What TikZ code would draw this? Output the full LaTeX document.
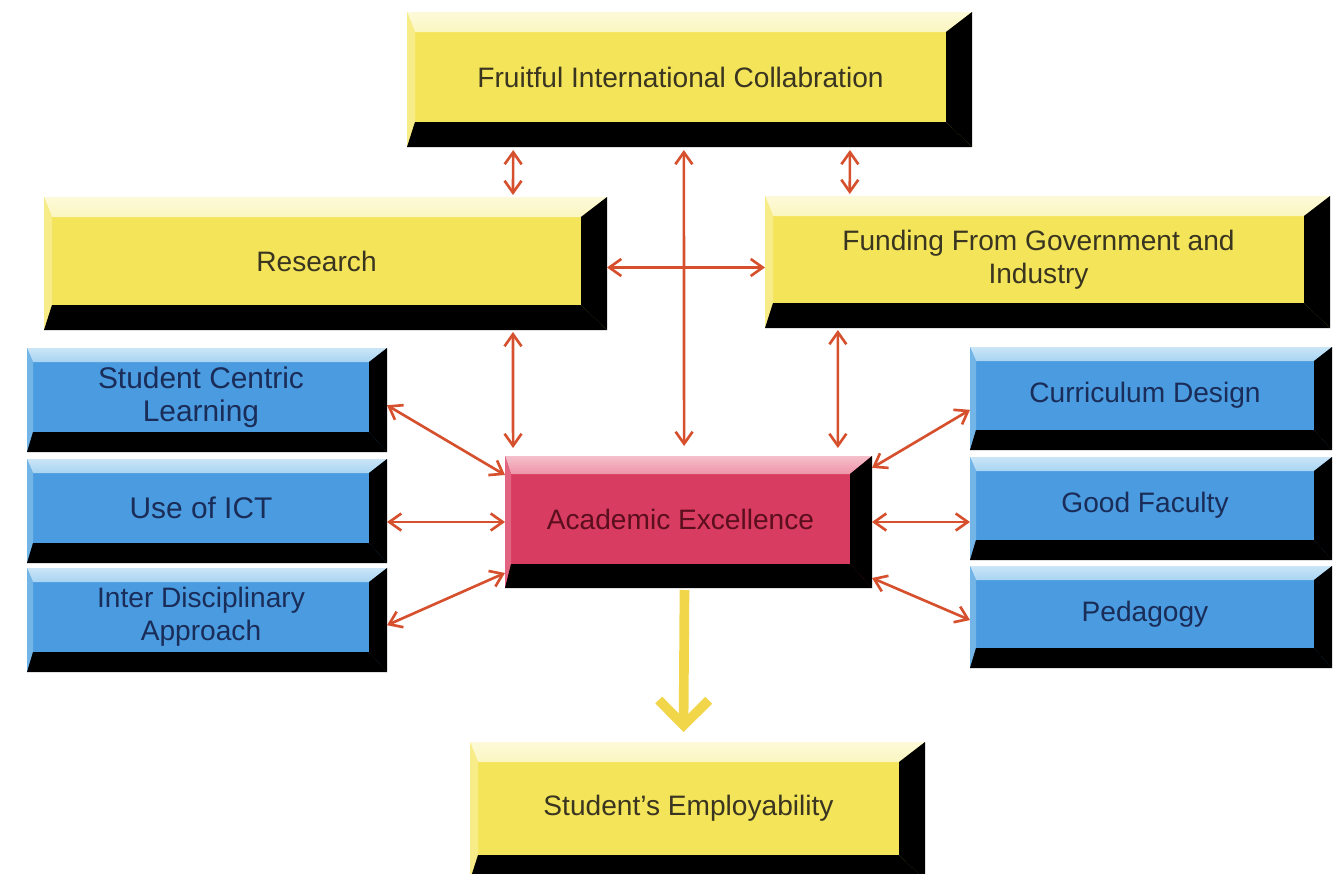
\documentclass[tikz,border=0pt]{standalone}
\usepackage{fontspec}
\setmainfont{Liberation Sans}
\usetikzlibrary{arrows.meta,calc,fit}
\definecolor{yface}{HTML}{F3E45A}
\definecolor{ylight}{HTML}{FBF6C0}
\definecolor{bface}{HTML}{4A9BDF}
\definecolor{blight}{HTML}{A8D4F2}
\definecolor{pface}{HTML}{D83C60}
\definecolor{plight}{HTML}{EE94A8}
\definecolor{linkred}{HTML}{D6502E}
\definecolor{flowyel}{HTML}{F1D64A}
\definecolor{ytext}{HTML}{3A3520}
\definecolor{btext}{HTML}{1A2C58}
\definecolor{ptext}{HTML}{5A0E1E}
\tikzset{
  boxtext/.style={align=center, font=\fontsize{16}{19}\selectfont, inner sep=0pt},
  link/.style={draw=linkred, line width=1.5pt, >={Straight Barb[length=2.4mm,width=3.4mm]}, <->},
  flow/.style={draw=flowyel, line width=5.5pt, -{Straight Barb[length=5mm,width=10mm]}}
}
% #1 name, #2 x0, #3 y0, #4 x1, #5 y1, #6 face, #7 light, #8 text
\newcommand{\bevbox}[8]{%
  \node[inner sep=0pt, outer sep=0pt, fit={(#2,#3) (#4,#5)}] (#1) {};
  \fill[#6] (#1.north west) rectangle (#1.south east);
  \shade[top color=#7!60!white, bottom color=#7]
    (#1.north west) -- (#1.north east) -- ($(#1.north east)+(-\bvr,\bvt)$)
    -- ($(#1.north west)+(\bvl,\bvt)$) -- cycle;
  \fill[#7!45!#6] (#1.north west) -- ($(#1.north west)+(\bvl,\bvt)$)
    -- ($(#1.south west)+(\bvl,-\bvb)$) -- (#1.south west) -- cycle;
  \fill[black] (#1.south west) -- ($(#1.south west)+(\bvl,-\bvb)$)
    -- ($(#1.south east)+(-\bvr,-\bvb)$) -- (#1.south east) -- cycle;
  \fill[black] (#1.north east) -- ($(#1.north east)+(-\bvr,\bvt)$)
    -- ($(#1.south east)+(-\bvr,-\bvb)$) -- (#1.south east) -- cycle;
  \node[boxtext] (#1-text) at ($(#1.center)+({(\bvl-\bvr)/2},{(\bvt-\bvb)/2})$) {#8};
}
\begin{document}
\begin{tikzpicture}[x=0.02cm,y=-0.02cm]
\useasboundingbox (0,0) rectangle (1339,873);
\fill[white] (0,0) rectangle (1339,873);

\def\bvl{8}\def\bvt{20}\def\bvr{26}\def\bvb{25}
\bevbox{fruit}{407}{12}{972}{147}{yface}{ylight}{\color{ytext}Fruitful International Collabration}
\bevbox{research}{44}{197}{607}{330}{yface}{ylight}{\color{ytext}Research}
\bevbox{funding}{765}{196}{1330}{328}{yface}{ylight}{\color{ytext}Funding From Government and\\\color{ytext}Industry}
\bevbox{employ}{470}{742}{925}{880}{yface}{ylight}{\color{ytext}Student's Employability}

\def\bvl{6}\def\bvt{18}\def\bvr{22}\def\bvb{24}
\bevbox{acad}{505}{456}{872}{588}{pface}{plight}{\color{ptext}Academic Excellence}

\def\bvl{6}\def\bvt{14}\def\bvr{18}\def\bvb{20}
\bevbox{scl}{27}{348}{387}{452}{bface}{blight}{\color{btext}\fontsize{17}{19}\selectfont Student Centric\\\color{btext}\fontsize{17}{19}\selectfont Learning}
\bevbox{ict}{27}{459}{387}{563}{bface}{blight}{\color{btext}\fontsize{17}{19}\selectfont Use of ICT}
\bevbox{inter}{27}{568}{387}{672}{bface}{blight}{\color{btext}Inter Disciplinary\\\color{btext}Approach}
\bevbox{curr}{970}{347}{1332}{450}{bface}{blight}{\color{btext}Curriculum Design}
\bevbox{faculty}{970}{457}{1332}{560}{bface}{blight}{\color{btext}Good Faculty}
\bevbox{peda}{970}{566}{1332}{668}{bface}{blight}{\color{btext}Pedagogy}

% connectors
\draw[link] ($(fruit.south west)!0.188!(fruit.south east)+(0,3)$) -- ($(research.north west)!0.833!(research.north east)+(0,-2)$);
\draw[link] ($(fruit.south west)!0.49!(fruit.south east)+(0,3)$) -- ($(acad.north west)!0.488!(acad.north east)+(0,-10)$);
\draw[link] ($(fruit.south west)!0.784!(fruit.south east)+(0,3)$) -- ($(funding.north west)!0.150!(funding.north east)+(0,-2)$);
\coordinate (rf) at ($(research.north east)!0.53!(research.south east)$);
\draw[link] (rf) -- (funding.west |- rf);
\draw[link] ($(research.south west)!0.833!(research.south east)+(0,2)$) -- ($(acad.north west)!0.022!(acad.north east)+(0,-8)$);
\draw[link] ($(funding.south west)!0.129!(funding.south east)+(0,2)$) -- ($(acad.north west)!0.907!(acad.north east)+(0,-8)$);
\draw[link] ($(scl.north east)!0.55!(scl.south east)$) -- ($(acad.north west)!0.144!(acad.south west)$);
\draw[link] (ict.east |- acad.west) -- (acad.west);
\draw[link] ($(inter.north east)!0.55!(inter.south east)$) -- ($(acad.north west)!0.886!(acad.south west)$);
\draw[link] ($(acad.north east)!0.09!(acad.south east)$) -- ($(curr.north west)!0.61!(curr.south west)$);
\draw[link] (acad.east) -- (faculty.west |- acad.east);
\draw[link] ($(acad.north east)!0.924!(acad.south east)$) -- ($(peda.north west)!0.53!(peda.south west)$);
\draw[flow] ($(acad.south)+(-4,2)$) -- ($(employ.north)+(-14,-10)$);
\end{tikzpicture}
\end{document}
